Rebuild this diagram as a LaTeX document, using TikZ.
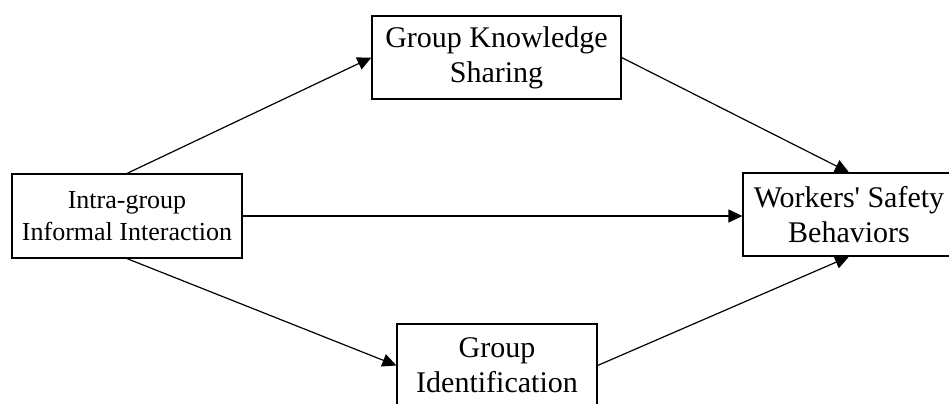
\documentclass[tikz,border=0pt]{standalone}
\usepackage{fontspec}
\setmainfont{Liberation Serif}
\usetikzlibrary{arrows.meta}
\tikzstyle{block}=[draw, line width=0.6pt, align=center, inner sep=0pt,
  minimum height=41.5pt, font=\fontsize{15}{17.5}\selectfont]
\tikzstyle{link}=[line width=0.6pt, -{Triangle[length=7pt,width=6.5pt]}]

\begin{document}
\begin{tikzpicture}[x=0.5pt, y=-0.5pt]
  \useasboundingbox (0,0) rectangle (949,403);
  \clip (0,0) rectangle (949,403);

  \node[block, minimum width=115pt, minimum height=42pt,
    font=\fontsize{13}{16}\selectfont] (interaction) at (127,216)
    {Intra-group\\Informal Interaction};
  \node[block, minimum width=124.5pt] (sharing) at (496.5,57.5)
    {Group Knowledge\\Sharing};
  \node[block, minimum width=100pt] (identification) at (497,365.5)
    {Group\\Identification};
  \node[block, minimum width=106pt] (safety) at (849,214.5)
    {Workers\textquotesingle{} Safety\\Behaviors};

  \draw[link] (interaction.north) -- (sharing.west);
  \draw[link] (interaction.south) -- (identification.west);
  \draw[link] (interaction.east) -- (interaction.east -| safety.west);
  \draw[link] (sharing.east) -- (safety.north);
  \draw[link] (identification.east) -- (safety.south);
\end{tikzpicture}
\end{document}
